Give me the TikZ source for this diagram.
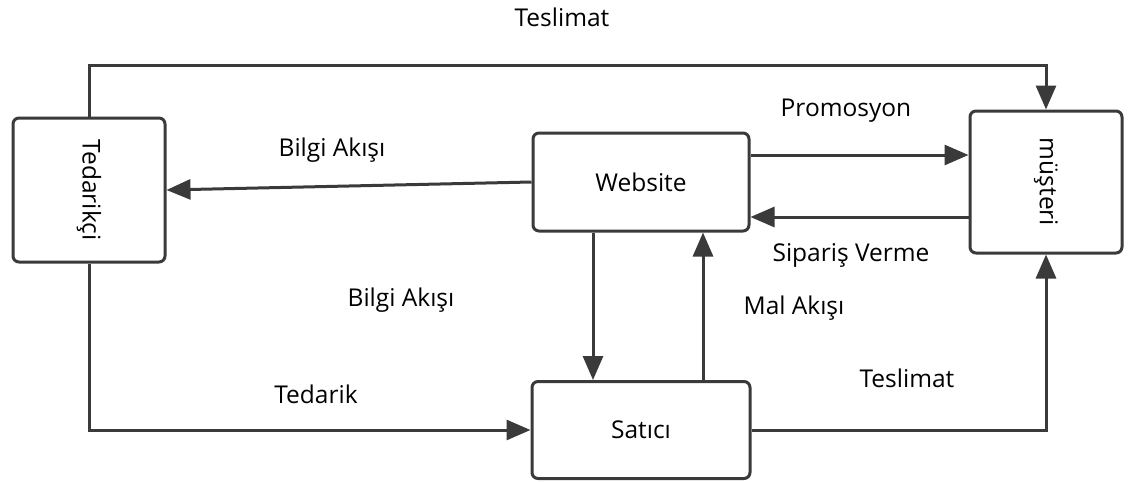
\documentclass[tikz,border=0pt]{standalone}
\usepackage{fontspec}
\setmainfont{Open Sans}
\usetikzlibrary{arrows.meta}
\definecolor{linec}{HTML}{3A3A3A}
\begin{document}
\begin{tikzpicture}[x=1pt,y=-1pt,
  box/.style={draw=linec, line width=3pt, rounded corners=6pt, fill=white, inner sep=0pt},
  conn/.style={draw=linec, line width=3pt, -{Triangle[length=24pt,width=20pt]}},
  lbl/.style={font=\fontsize{24.5}{28}\selectfont, text=black, inner sep=0pt}]
\useasboundingbox (0,0) rectangle (1128,482);

\node[box, minimum width=152pt, minimum height=144pt] (ted) at (89,190) {};
\node[lbl, rotate=-90] (tedt) at (ted.center) {Tedarikçi};
\node[box, minimum width=216pt, minimum height=98pt, lbl] (web) at (641,182) {Website};
\node[box, minimum width=152pt, minimum height=142pt] (mus) at (1046,182) {};
\node[lbl, rotate=-90] (must) at (mus.center) {müşteri};
\node[box, minimum width=218pt, minimum height=97pt, lbl] (sat) at (641,430) {Satıcı};

% connectors
\draw[conn] (ted.north) -- ++(0,-51) -| (mus.north);
\draw[conn] (web.west) -- (ted.east);
\draw[conn] ([yshift=27pt]web.east) -- ([yshift=27pt]web.east -| mus.west);
\draw[conn] ([yshift=-35pt]mus.west) -- ([yshift=-35pt]mus.west -| web.east);
\draw[conn] ([xshift=-48pt]web.south) -- ([xshift=-48pt]web.south |- sat.north);
\draw[conn] ([xshift=62pt]sat.north) -- ([xshift=62pt]sat.north |- web.south);
\draw[conn] (ted.south) |- (sat.west);
\draw[conn] (sat.east) -| (mus.south);

% labels
\node[lbl] (l1) at (562,17) {Teslimat};
\node[lbl] (l2) at (332,150) {Bilgi Akışı};
\node[lbl] (l3) at (846,111) {Promosyon};
\node[lbl] (l4) at (851,255) {Sipariş Verme};
\node[lbl] (l5) at (401,300) {Bilgi Akışı};
\node[lbl] (l6) at (794,308) {Mal Akışı};
\node[lbl] (l7) at (316,394) {Tedarik};
\node[lbl] (l8) at (907,378) {Teslimat};
\end{tikzpicture}
\end{document}
